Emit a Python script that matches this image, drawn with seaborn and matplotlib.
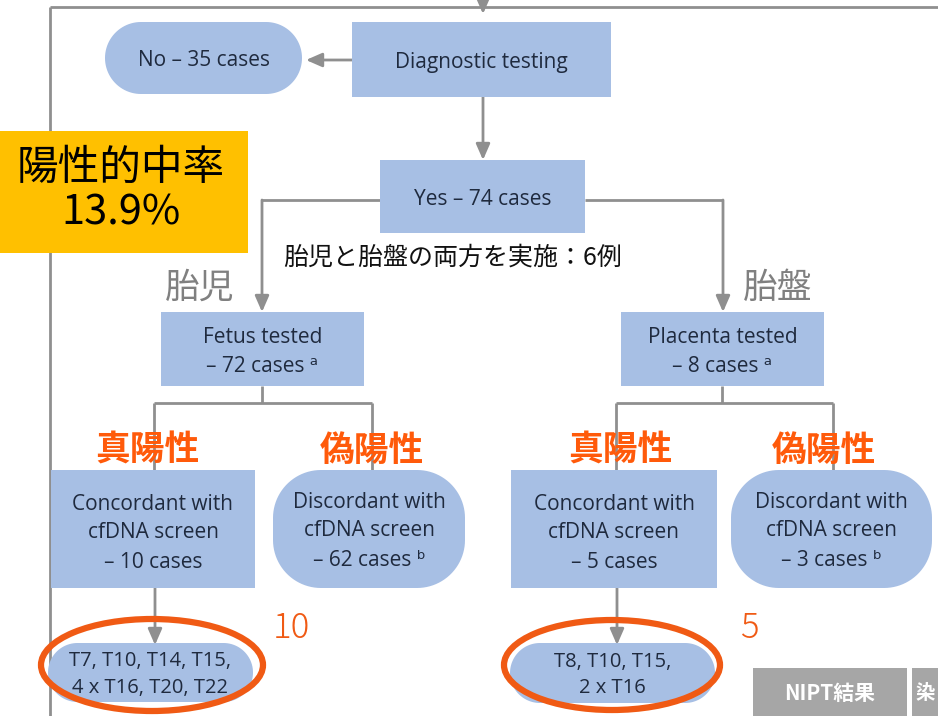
import matplotlib
matplotlib.use("Agg")
import numpy as np
import matplotlib.pyplot as plt
import seaborn as sns
from matplotlib.patches import Polygon, Rectangle, Ellipse

sns.set_theme(style="white")
plt.rcParams['font.family'] = ['Noto Sans CJK JP', 'DejaVu Sans']

# ---- data ----
no_cases = 35
yes_cases = 74
fetus_cases = 72
placenta_cases = 8
fetus_concordant = 10
fetus_discordant = 62
placenta_concordant = 5
placenta_discordant = 3
fetus_results = "T7, T10, T14, T15,\n4 x T16, T20, T22"
placenta_results = "T8, T10, T15,\n2 x T16"
ppv_label = "陽性的中率\n13.9%"
both_label = "胎児と胎盤の両方を実施：6例"
true_pos = "真陽性"
false_pos = "偽陽性"

BOX = '#a7bfe4'
TXT = '#1f2a3e'
LINE = '#8f8f8f'
ORANGE = '#f05a14'
BOXFONT = ['Open Sans', 'DejaVu Sans']

fig = plt.figure(figsize=(9.38, 7.16), dpi=100)
ax = fig.add_axes([0, 0, 1, 1])
ax.set_xlim(0, 938)
ax.set_ylim(716, 0)
ax.axis('off')


def rounded_poly(x0, y0, x1, y1, r, n=24):
    r = min(r, (x1 - x0) / 2, (y1 - y0) / 2)
    pts = []
    corners = [(x1 - r, y0 + r, -90, 0), (x1 - r, y1 - r, 0, 90),
               (x0 + r, y1 - r, 90, 180), (x0 + r, y0 + r, 180, 270)]
    for cx, cy, a0, a1 in corners:
        t = np.radians(np.linspace(a0, a1, n))
        pts.extend(zip(cx + r * np.cos(t), cy + r * np.sin(t)))
    return np.array(pts)


def rect(x0, y0, x1, y1, text, fs=15, rounded=0, ls=1.5, dy=3):
    if rounded:
        p = Polygon(rounded_poly(x0, y0, x1, y1, rounded), closed=True,
                    fc=BOX, ec='none', zorder=2)
    else:
        p = Rectangle((x0, y0), x1 - x0, y1 - y0, fc=BOX, ec='none', zorder=2)
    ax.add_patch(p)
    ax.text((x0 + x1) / 2, (y0 + y1) / 2 + dy, text, ha='center', va='center',
            fontsize=fs, color=TXT, zorder=3, linespacing=ls, family=BOXFONT)


def line(xs, ys):
    ax.plot(xs, ys, color=LINE, lw=2, zorder=1, solid_capstyle='butt')


def arrow(x0, y0, x1, y1):
    ax.annotate('', xy=(x1, y1), xytext=(x0, y0),
                arrowprops=dict(arrowstyle='-|>,head_length=0.8,head_width=0.35',
                                color=LINE, lw=2, shrinkA=0, shrinkB=0), zorder=1)

# outer frame
line([50, 50], [7, 716])
line([50, 938], [7, 7])
arrow(483, 0, 483, 14)

# nodes
rect(105, 22, 302, 94, f"No – {no_cases} cases", rounded=36)
rect(352, 22, 611, 97, "Diagnostic testing")
arrow(352, 60, 306, 60)
arrow(483, 97, 483, 160)
rect(380, 160, 585, 233, f"Yes – {yes_cases} cases")

line([380, 262], [200, 200])
arrow(262, 200, 262, 312)
line([585, 723], [200, 200])
arrow(723, 200, 723, 312)

rect(161, 312, 364, 386, f"Fetus tested\n– {fetus_cases} cases ᵃ")
rect(621, 312, 824, 386, f"Placenta tested\n– {placenta_cases} cases ᵃ")

# fetus branch
line([262, 262], [386, 403])
line([154, 372], [403, 403])
line([154, 154], [403, 470])
line([372, 372], [403, 470])
# placenta branch
line([722, 722], [386, 403])
line([616, 833], [403, 403])
line([616, 616], [403, 470])
line([833, 833], [403, 470])

rect(51, 470, 255, 588, f"Concordant with\ncfDNA screen\n– {fetus_concordant} cases", dy=4)
rect(273, 470, 465, 588, f"Discordant with\ncfDNA screen\n– {fetus_discordant} cases ᵇ",
     rounded=48, dy=2)
rect(511, 470, 717, 588, f"Concordant with\ncfDNA screen\n– {placenta_concordant} cases", dy=4)
rect(731, 470, 932, 588, f"Discordant with\ncfDNA screen\n– {placenta_discordant} cases ᵇ",
     rounded=48, dy=2)

arrow(155, 588, 155, 645)
arrow(617, 588, 617, 645)

rect(48, 643, 253, 702, fetus_results, fs=14.5, rounded=30, ls=1.45, dy=2)
rect(510, 643, 715, 703, placenta_results, fs=14.5, rounded=30, ls=1.45, dy=2)

ax.add_patch(Ellipse((152, 665), 222, 92, fill=False, ec=ORANGE, lw=4.5, zorder=4))
ax.add_patch(Ellipse((612, 665), 216, 90, fill=False, ec=ORANGE, lw=4.5, zorder=4))

ax.text(291, 628, str(fetus_concordant), color=ORANGE, fontsize=25, ha='center',
        va='center', fontweight='light', family=['Noto Sans CJK JP'])
ax.text(749, 628, str(placenta_concordant), color=ORANGE, fontsize=25, ha='center',
        va='center', fontweight='light', family=['Noto Sans CJK JP'])

# annotations
ax.text(283, 258, both_label, fontsize=18, color='#111111', ha='left', va='center')
ax.text(200, 288, "胎児", fontsize=25, color='#808080', ha='center', va='center')
ax.text(778, 288, "胎盤", fontsize=25, color='#808080', ha='center', va='center')

for cx in (147, 620):
    ax.text(cx, 450, true_pos, fontsize=25, color='#ff5a0a', ha='center',
            va='center', fontweight='bold')
for cx in (372, 824):
    ax.text(cx, 450, false_pos, fontsize=25, color='#ff5a0a', ha='center',
            va='center', fontweight='bold')

# yellow PPV box
ax.add_patch(Rectangle((0, 131), 248, 122, fc='#ffc000', ec='none', zorder=5))
ax.text(121, 191, ppv_label, fontsize=30, color='black', ha='center', va='center',
        zorder=6, linespacing=1.12, fontweight='normal')

# gray bottom tabs
ax.add_patch(Rectangle((753, 668), 154, 50, fc='#a6a6a6', ec='none', zorder=5))
ax.text(830, 693, "NIPT結果", fontsize=15, color='white', fontweight='bold',
        ha='center', va='center', zorder=6)
ax.add_patch(Rectangle((912, 668), 40, 50, fc='#a6a6a6', ec='none', zorder=5))
ax.text(916, 693, "染", fontsize=14, color='white', fontweight='bold',
        ha='left', va='center', zorder=6)

fig.savefig("out.png", dpi=100)
